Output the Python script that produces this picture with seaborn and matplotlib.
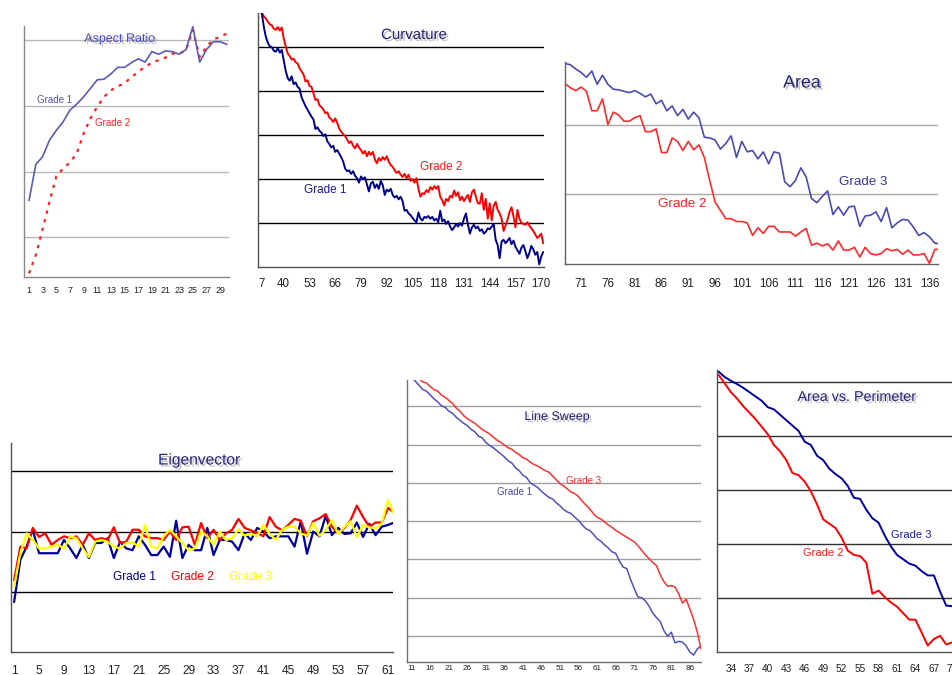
import numpy as np
import matplotlib
matplotlib.use("Agg")
import matplotlib.pyplot as plt
import matplotlib.patheffects as pe
from matplotlib.ticker import MultipleLocator
import seaborn as sns

sns.set_style("white")
plt.rcParams['font.family'] = ['Liberation Sans', 'DejaVu Sans']

W, H = 953, 675

# ---- Aspect Ratio ----
aspect_x = list(range(1, 31))
aspect_g1 = [1.56, 2.11, 2.23, 2.48, 2.63, 2.76, 2.94, 3.03, 3.14, 3.27,
             3.40, 3.41, 3.49, 3.59, 3.59, 3.66, 3.72, 3.67, 3.83, 3.79,
             3.84, 3.83, 3.79, 3.86, 4.21, 3.67, 3.86, 3.98, 3.98, 3.94]
aspect_g2 = [0.45, 0.73, 1.13, 1.54, 1.93, 2.05, 2.14, 2.28, 2.58, 2.81,
             2.99, 3.14, 3.24, 3.30, 3.35, 3.44, 3.52, 3.60, 3.66, 3.70,
             3.74, 3.80, 3.80, 3.85, 4.16, 3.75, 3.90, 4.02, 4.05, 4.11]

# ---- Curvature ----
curv_x = list(range(27, 172))
curv_g2 = [6.00, 5.85, 5.78,
           5.70, 5.65, 5.58, 5.52, 5.50, 5.42, 5.40, 5.46, 5.38, 5.45,
           5.20, 5.02, 4.86, 4.80, 4.72, 4.74, 4.66, 4.63, 4.52, 4.45,
           4.38, 4.22, 4.25, 4.12, 4.10, 3.95, 3.80, 3.82, 3.68, 3.64,
           3.58, 3.50, 3.52, 3.40, 3.36, 3.30, 3.38, 3.28, 3.15, 3.08,
           3.02, 2.98, 2.90, 2.82, 2.86, 2.76, 2.70, 2.80, 2.72, 2.66,
           2.58, 2.64, 2.52, 2.62, 2.55, 2.62, 2.45, 2.36, 2.48, 2.42,
           2.50, 2.44, 2.52, 2.40, 2.32, 2.28, 2.20, 2.14, 2.18, 2.10,
           2.05, 2.12, 2.02, 2.10, 1.96, 2.00, 1.92, 2.02, 1.78, 1.60,
           1.68, 1.66, 1.75, 1.70, 1.82, 1.76, 1.84, 1.78, 1.84, 1.60,
           1.52, 1.40, 1.55, 1.50, 1.62, 1.58, 1.74, 1.62, 1.70, 1.52,
           1.60, 1.50, 1.58, 1.64, 1.48, 1.70, 1.76, 1.60, 1.45, 1.44,
           1.68, 1.30, 1.55, 1.10, 1.45, 1.06, 1.40, 1.48, 1.30, 1.22,
           1.10, 0.82, 0.95, 1.08, 1.25, 1.36, 1.15, 0.90, 1.30, 1.10,
           1.00, 0.98, 0.96, 1.02, 0.94, 0.88, 0.82, 0.74, 0.66, 0.70,
           0.76, 0.54]
curv_g1 = [6.00, 5.90, 5.75,
           5.45, 5.23, 5.10, 5.02, 5.00, 4.92, 4.90, 4.98, 4.88, 4.94,
           4.70, 4.46, 4.30, 4.24, 4.34, 4.16, 4.20, 4.10, 4.06, 3.86,
           3.76, 3.66, 3.58, 3.50, 3.42, 3.36, 3.14, 3.18, 3.10, 3.06,
           2.98, 3.02, 2.86, 2.80, 2.72, 2.76, 2.62, 2.66, 2.58, 2.50,
           2.40, 2.24, 2.18, 2.20, 2.12, 2.18, 2.08, 2.02, 1.92, 2.06,
           2.00, 2.04, 1.88, 1.72, 1.90, 1.94, 1.80, 1.88, 1.78, 1.96,
           1.86, 1.64, 1.76, 1.72, 1.78, 1.64, 1.58, 1.62, 1.54, 1.60,
           1.50, 1.28, 1.30, 1.22, 1.18, 1.12, 1.06, 1.02, 1.24, 1.10,
           1.06, 1.14, 1.12, 1.16, 1.10, 1.14, 1.06, 1.10, 1.02, 1.28,
           1.04, 1.08, 0.98, 1.04, 0.92, 0.84, 0.90, 0.98, 0.92, 1.00,
           0.94, 1.10, 1.22, 0.96, 0.76, 0.90, 0.96, 0.88, 0.92, 0.82,
           0.86, 0.76, 0.80, 0.88, 0.86, 0.92, 0.98, 0.62, 0.50, 0.20,
           0.58, 0.62, 0.54, 0.60, 0.66, 0.52, 0.60, 0.46, 0.38, 0.30,
           0.44, 0.50, 0.36, 0.20, 0.32, 0.48, 0.40, 0.28, 0.34, 0.06,
           0.24, 0.34]

# ---- Area ----
area_x = list(range(68, 139))
area_g3 = [2.88, 2.86, 2.80, 2.75, 2.68, 2.77, 2.58, 2.71, 2.58, 2.51,
           2.50, 2.48, 2.46, 2.49, 2.45, 2.40, 2.44, 2.30, 2.35, 2.20,
           2.27, 2.13, 2.22, 2.08, 2.18, 2.10, 1.82, 1.81, 1.78, 1.65,
           1.73, 1.84, 1.53, 1.76, 1.61, 1.63, 1.51, 1.61, 1.44, 1.61,
           1.59, 1.18, 1.11, 1.20, 1.38, 1.25, 0.94, 0.88, 0.97, 1.05,
           0.71, 0.82, 0.70, 0.82, 0.83, 0.54, 0.69, 0.70, 0.75, 0.61,
           0.81, 0.52, 0.59, 0.64, 0.63, 0.53, 0.41, 0.45, 0.39, 0.30,
           0.29]
area_g2 = [2.59, 2.53, 2.49, 2.54, 2.48, 2.20, 2.20, 2.37, 2.00, 2.18,
           2.14, 2.05, 2.05, 2.10, 2.13, 1.90, 1.90, 1.94, 1.60, 1.60,
           1.81, 1.76, 1.63, 1.76, 1.64, 1.71, 1.53, 1.20, 0.89, 0.77,
           0.65, 0.65, 0.61, 0.61, 0.59, 0.41, 0.52, 0.44, 0.54, 0.54,
           0.46, 0.46, 0.46, 0.40, 0.46, 0.51, 0.27, 0.30, 0.26, 0.29,
           0.20, 0.33, 0.20, 0.20, 0.24, 0.10, 0.24, 0.15, 0.13, 0.15,
           0.22, 0.19, 0.21, 0.14, 0.20, 0.13, 0.13, 0.15, 0.01, 0.21,
           0.21]

# ---- Eigenvector ----
eig_x = list(range(1, 63))
eig_g1 = [0.83, 1.53, 1.75, 2.03, 1.64, 1.64, 1.64, 1.64, 1.86, 1.72,
          1.56, 1.78, 1.56, 1.81, 1.81, 1.89, 1.56, 1.83, 1.72, 1.69,
          1.92, 1.78, 1.61, 1.61, 1.75, 1.58, 2.18, 1.56, 1.78, 1.69,
          1.69, 2.06, 1.61, 1.86, 1.86, 1.83, 1.69, 1.97, 1.86, 2.06,
          2.00, 1.89, 1.92, 1.92, 1.92, 1.75, 2.17, 1.63, 2.00, 1.92,
          2.26, 1.94, 2.06, 1.96, 1.97, 2.15, 1.91, 2.13, 1.94, 2.08,
          2.11, 2.15]
eig_g2 = [1.19, 1.75, 1.72, 2.06, 1.91, 1.97, 1.78, 1.86, 1.92, 1.89,
          1.92, 1.78, 1.97, 1.86, 1.89, 1.86, 2.07, 1.81, 1.83, 2.03,
          2.03, 1.92, 1.89, 1.89, 1.86, 2.00, 1.86, 2.07, 2.08, 1.78,
          2.14, 1.89, 2.03, 1.86, 1.97, 2.03, 2.21, 2.06, 2.02, 1.98,
          1.92, 2.24, 2.08, 2.02, 2.11, 2.21, 2.18, 1.92, 2.17, 2.22,
          2.29, 2.08, 1.97, 2.06, 2.19, 2.43, 2.24, 2.08, 2.15, 2.15,
          2.39, 2.32]
eig_g3 = [1.08, 1.64, 1.97, 1.86, 1.72, 1.72, 1.75, 1.78, 1.72, 1.92,
          1.89, 1.72, 1.58, 1.83, 1.86, 1.83, 1.75, 1.72, 1.81, 1.82,
          1.75, 2.11, 1.75, 1.72, 1.92, 2.03, 1.92, 1.81, 1.69, 1.72,
          2.00, 1.92, 1.78, 2.00, 1.86, 1.89, 2.04, 1.93, 1.97, 1.92,
          2.11, 1.96, 1.86, 2.03, 2.08, 2.08, 1.97, 1.93, 2.14, 1.93,
          2.03, 2.19, 1.96, 2.08, 2.17, 1.91, 2.11, 2.07, 2.05, 2.14,
          2.52, 2.28]

# ---- Line Sweep ----
sweep_x = list(range(10, 90))
sweep_g1 = [7.85, 7.74, 7.66, 7.55, 7.44, 7.40, 7.30, 7.20, 7.12, 7.02,
            6.98, 6.88, 6.82, 6.72, 6.64, 6.56, 6.50, 6.40, 6.34, 6.22,
            6.18, 6.06, 5.98, 5.92, 5.84, 5.76, 5.68, 5.58, 5.52, 5.40,
            5.32, 5.20, 5.14, 5.00, 4.94, 4.88, 4.78, 4.70, 4.62, 4.58,
            4.48, 4.40, 4.30, 4.24, 4.20, 4.10, 4.02, 3.90, 3.80, 3.76,
            3.66, 3.54, 3.48, 3.38, 3.30, 3.20, 3.16, 2.96, 2.80, 2.76,
            2.48, 2.24, 2.02, 2.00, 1.92, 1.78, 1.60, 1.48, 1.38, 1.14,
            0.99, 1.10, 0.82, 0.86, 0.84, 0.74, 0.58, 0.50, 0.66, 0.74]
sweep_g3 = [8.00, 7.92, 7.82, 7.72, 7.64, 7.61, 7.52, 7.44, 7.40, 7.30,
            7.24, 7.16, 7.08, 6.96, 6.88, 6.76, 6.68, 6.62, 6.56, 6.48,
            6.40, 6.34, 6.28, 6.20, 6.12, 6.06, 5.99, 5.92, 5.88, 5.80,
            5.74, 5.66, 5.62, 5.54, 5.48, 5.44, 5.38, 5.32, 5.28, 5.18,
            5.08, 4.98, 4.92, 4.84, 4.76, 4.72, 4.64, 4.52, 4.42, 4.32,
            4.20, 4.10, 4.06, 3.98, 3.90, 3.84, 3.76, 3.70, 3.64, 3.58,
            3.52, 3.46, 3.36, 3.24, 3.12, 3.02, 2.92, 2.84, 2.60, 2.42,
            2.30, 2.32, 2.28, 2.10, 1.86, 1.96, 1.70, 1.44, 1.10, 0.66]

# ---- Area vs. Perimeter ----
avp_x = list(range(32, 71))
avp_g3 = [5.20, 5.10, 5.03, 4.97, 4.90, 4.82, 4.74, 4.66, 4.54, 4.50,
          4.40, 4.30, 4.20, 4.10, 3.90, 3.84, 3.64, 3.56, 3.40, 3.30,
          3.22, 3.08, 2.86, 2.84, 2.64, 2.48, 2.40, 2.16, 1.96, 1.80,
          1.72, 1.64, 1.60, 1.50, 1.42, 1.42, 1.12, 0.86, 0.85]
avp_g2 = [5.14, 4.98, 4.82, 4.70, 4.56, 4.44, 4.32, 4.18, 4.04, 3.84,
          3.72, 3.56, 3.32, 3.28, 3.16, 2.98, 2.74, 2.46, 2.38, 2.30,
          2.12, 1.88, 1.80, 1.78, 1.66, 1.08, 1.14, 1.02, 0.92, 0.84,
          0.72, 0.60, 0.60, 0.36, 0.12, 0.24, 0.30, 0.14, 0.18]

fig = plt.figure(figsize=(W / 100, H / 100), dpi=100)
fig.patch.set_facecolor("white")


def panel(l, t, r, b):
    return fig.add_axes([l / W, 1 - b / H, (r - l) / W, (b - t) / H])


def style(ax, xlim, ylim, yticks, xmaj, xlab, fs, pad, gcol, spine="#707070", xlen=3):
    ax.set_xlim(*xlim)
    ax.set_ylim(*ylim)
    ax.set_yticks(yticks)
    ax.set_yticklabels([])
    ax.set_xticks(xmaj)
    ax.set_xticklabels(xlab, fontsize=fs, color="#202020")
    ax.xaxis.set_minor_locator(MultipleLocator(1))
    ax.tick_params(axis="both", which="both", direction="out", length=3,
                   width=0.8, color="#404040", pad=pad)
    ax.tick_params(axis="x", which="both", length=xlen)
    ax.yaxis.grid(True, color=gcol, lw=1)
    ax.xaxis.grid(False)
    ax.set_axisbelow(True)
    for s in ["top", "right"]:
        ax.spines[s].set_visible(False)
    for s in ["left", "bottom"]:
        ax.spines[s].set_color(spine)
        ax.spines[s].set_linewidth(1)
    ax.set_xlabel("")
    ax.set_ylabel("")
    ax.set_facecolor("white")


shadow = [pe.SimplePatchShadow(offset=(1.5, -1.5), shadow_rgbFace="#999999", alpha=0.6), pe.Normal()]


def title(x, y, s, size, color="#22227a"):
    fig.text(x / W, 1 - y / H, s, fontsize=size, color=color, ha="center",
             va="center", path_effects=shadow)


def label(x, y, s, size, color):
    fig.text(x / W, 1 - y / H, s, fontsize=size, color=color, ha="left", va="center")


# Aspect Ratio
ax = panel(24.5, 26, 229, 277)
sns.lineplot(x=aspect_x, y=aspect_g2, ax=ax, color="#ff2020", lw=1.6, linestyle=(0, (1.5, 2.5)))
sns.lineplot(x=aspect_x, y=aspect_g1, ax=ax, color="#5a5ab8", lw=1.2)
style(ax, (0.34, 30.3), (0.395, 4.22), [1, 2, 3, 4], list(range(1, 31, 2)),
      [str(v) for v in range(1, 31, 2)], 6.4, 3.5, "#b8b8b8", spine="#888888")
title(120, 39, "Aspect Ratio", 9, "#4a4ac8")
label(37, 100, "Grade 1", 7, "#5050b8")
label(95, 123, "Grade 2", 7, "#ff2020")

# Curvature
ax = panel(258, 13, 544, 267)
sns.lineplot(x=curv_x, y=curv_g2, ax=ax, color="#ff0000", lw=1.4)
sns.lineplot(x=curv_x, y=curv_g1, ax=ax, color="#00008c", lw=1.4)
style(ax, (27, 171.4), (0, 5.78), [1, 2, 3, 4, 5], [29] + list(range(40, 171, 13)),
      ["7"] + [str(v) for v in range(40, 171, 13)], 8.3, 5, "#000000", spine="#505050")
title(414, 35, "Curvature", 10.8)
label(420, 167, "Grade 2", 8.5, "#ff1a1a")
label(304, 190, "Grade 1", 8.5, "#1a1a8c")

# Area
ax = panel(565, 62, 938, 264)
sns.lineplot(x=area_x, y=area_g3, ax=ax, color="#4a4ab4", lw=1.2)
sns.lineplot(x=area_x, y=area_g2, ax=ax, color="#ff2a2a", lw=1.2)
style(ax, (68, 137.6), (0, 2.9), [1, 2], list(range(71, 137, 5)),
      [str(v) for v in range(71, 137, 5)], 8.4, 7, "#a8a8a8", spine="#606060")
title(802, 83, "Area", 12.8)
label(839, 182, "Grade 3", 9.6, "#3535a0")
label(658, 204, "Grade 2", 9.6, "#ff2020")

# Eigenvector
ax = panel(11, 443, 393, 652)
sns.lineplot(x=eig_x, y=eig_g1, ax=ax, color="#000099", lw=1.6)
sns.lineplot(x=eig_x, y=eig_g2, ax=ax, color="#ff0000", lw=1.6)
sns.lineplot(x=eig_x, y=eig_g3, ax=ax, color="#ffff00", lw=1.6)
style(ax, (0.5, 61.8), (0, 3.47), [1, 2, 3], list(range(1, 62, 4)),
      [str(v) for v in range(1, 62, 4)], 8.6, 6, "#000000", spine="#505050")
title(199, 460, "Eigenvector", 11.2)
label(113, 577, "Grade 1", 8.6, "#00008c")
label(171, 577, "Grade 2", 8.6, "#ff0000")
label(229, 577, "Grade 3", 8.6, "#ffff00")

# Line Sweep
ax = panel(407, 380, 701, 662)
sns.lineplot(x=sweep_x, y=sweep_g1, ax=ax, color="#5050c0", lw=1.1)
sns.lineplot(x=sweep_x, y=sweep_g3, ax=ax, color="#ff3030", lw=1.1)
style(ax, (9.75, 89), (0.32, 7.69), [1, 2, 3, 4, 5, 6, 7], list(range(11, 89, 5)),
      [str(v) for v in range(11, 89, 5)], 5.9, 0, "#a0a0a0", spine="#707070", xlen=2)
title(557, 417, "Line Sweep", 9)
label(566, 481, "Grade 3", 7, "#ff2a2a")
label(497, 492, "Grade 1", 7, "#4848b8")

# Area vs. Perimeter
ax = panel(716.7, 370, 953, 652)
sns.lineplot(x=avp_x, y=avp_g3, ax=ax, color="#0000a0", lw=1.4)
sns.lineplot(x=avp_x, y=avp_g2, ax=ax, color="#ff0000", lw=1.4)
style(ax, (31.7, 70.1), (0, 5.23), [1, 2, 3, 4, 5], list(range(34, 68, 3)) + [69.55],
      [str(v) for v in range(34, 68, 3)] + ["7"], 7.2, 6, "#303030", spine="#505050")
title(857, 397, "Area vs. Perimeter", 10.3)
label(891, 535, "Grade 3", 8, "#1a1aa0")
label(803, 553, "Grade 2", 8, "#ff1a1a")

fig.savefig("out.png", dpi=100)
